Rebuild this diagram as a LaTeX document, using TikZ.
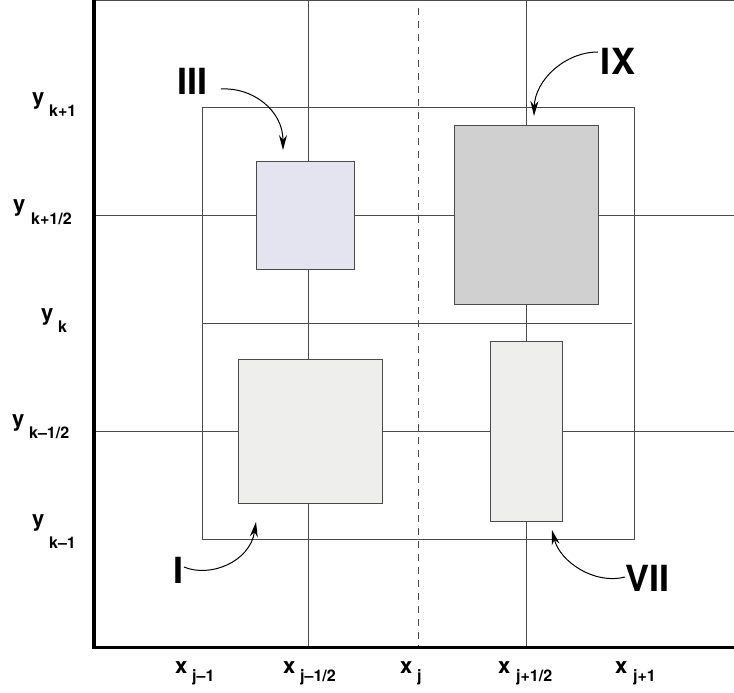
\documentclass[tikz,border=0pt]{standalone}
\usepackage{fontspec}
\setmainfont{TeX Gyre Heros}
\usetikzlibrary{arrows.meta}
\definecolor{gridc}{HTML}{4A4A4A}
\definecolor{lavfill}{HTML}{E4E4F0}
\definecolor{darkfill}{HTML}{D0D0D0}
\definecolor{lightfill}{HTML}{EEEEEC}
\tikzset{
  gridline/.style={draw=gridc, line width=1pt},
  dashline/.style={draw=gridc, line width=1pt, dash pattern=on 7pt off 6pt},
  axisline/.style={draw=black, line width=3.5pt, line join=miter},
  cellbox/.style={draw=gridc, line width=1pt, inner sep=0pt, outer sep=0pt},
  mainlab/.style={font=\fontsize{22}{22}\selectfont\bfseries, inner sep=0pt, anchor=base west},
  sublab/.style={font=\fontsize{16}{16}\selectfont\bfseries, inner sep=0pt, anchor=base west},
  romlab/.style={font=\fontsize{36}{36}\selectfont\bfseries, inner sep=0pt},
  pointer/.style={draw=black, line width=1pt, -{Stealth[length=15pt,width=8pt]}}
}
\begin{document}
\begin{tikzpicture}[x=1pt,y=-1pt]
\useasboundingbox (0,0) rectangle (734,693);
% frame
\draw[gridline] (94,0.5) -- (734,0.5);
% grid lines
\draw[gridline] (308,0) -- (308,647);
\draw[gridline] (526,0) -- (526,647);
\draw[dashline] (418,8) -- (418,647);
\draw[gridline] (94,215) -- (734,215);
\draw[gridline] (94,431) -- (734,431);
% stencil box
\draw[gridline] (202,107) rectangle (634,539);
\draw[gridline] (202,323) -- (632,323);
% cells
\node[cellbox, fill=lavfill, minimum width=98pt, minimum height=108pt] (boxIII) at (305,215) {};
\node[cellbox, fill=darkfill, minimum width=144pt, minimum height=179pt] (boxIX) at (526,214.5) {};
\node[cellbox, fill=lightfill, minimum width=144pt, minimum height=144pt] (boxI) at (310,431) {};
\node[cellbox, fill=lightfill, minimum width=72pt, minimum height=180pt] (boxVII) at (526,431) {};
% axes
\draw[axisline] (94,0) -- (94,647.5) -- (734,647.5);
% roman labels
\node[romlab] (labIII) at (192.5,81) {III};
\node[romlab] (labIX) at (618,61.5) {IX};
\node[romlab] (labI) at (178.5,570.5) {I};
\node[romlab] (labVII) at (647.5,578.5) {VII};
% arrows
\coordinate (aIIIs) at (221,89);
\coordinate (aIIIe) at (283,150);
\coordinate (aIXs) at (598,52);
\coordinate (aIXe) at (534,116);
\coordinate (aIs) at (184,567);
\coordinate (aIe) at (256,522);
\coordinate (aVIIs) at (625,577);
\coordinate (aVIIe) at (552,530);
\draw[pointer] (aIIIs) .. controls (252,87) and (283,110) .. (aIIIe);
\draw[pointer] (aIXs) .. controls (565,52) and (535,80) .. (aIXe);
\draw[pointer] (aIs) .. controls (210,578) and (250,562) .. (aIe);
\draw[pointer] (aVIIs) .. controls (595,585) and (560,562) .. (aVIIe);
% y labels
\node[mainlab] (ykp1) at (32,104.5) {y};
\node[sublab] (ykp1s) at (49,117) {k+1};
\node[mainlab] (ykph) at (13,211.5) {y};
\node[sublab] (ykphs) at (31,224) {k+1/2};
\node[mainlab] (yk) at (41,320.5) {y};
\node[sublab] (yks) at (58,332) {k};
\node[mainlab] (ykmh) at (12,426.5) {y};
\node[sublab] (ykmhs) at (29,438) {k–1/2};
\node[mainlab] (ykm1) at (32,526.5) {y};
\node[sublab] (ykm1s) at (49,548) {k–1};
% x labels
\node[mainlab] (xjm1) at (175,673) {x};
\node[sublab] (xjm1s) at (192,681) {j–1};
\node[mainlab] (xjmh) at (283,673) {x};
\node[sublab] (xjmhs) at (300,681) {j–1/2};
\node[mainlab] (xj) at (400,673) {x};
\node[sublab] (xjs) at (417,681) {j};
\node[mainlab] (xjph) at (498,673) {x};
\node[sublab] (xjphs) at (516,681) {j+1/2};
\node[mainlab] (xjp1) at (615,673) {x};
\node[sublab] (xjp1s) at (633,681) {j+1};
\end{tikzpicture}
\end{document}
